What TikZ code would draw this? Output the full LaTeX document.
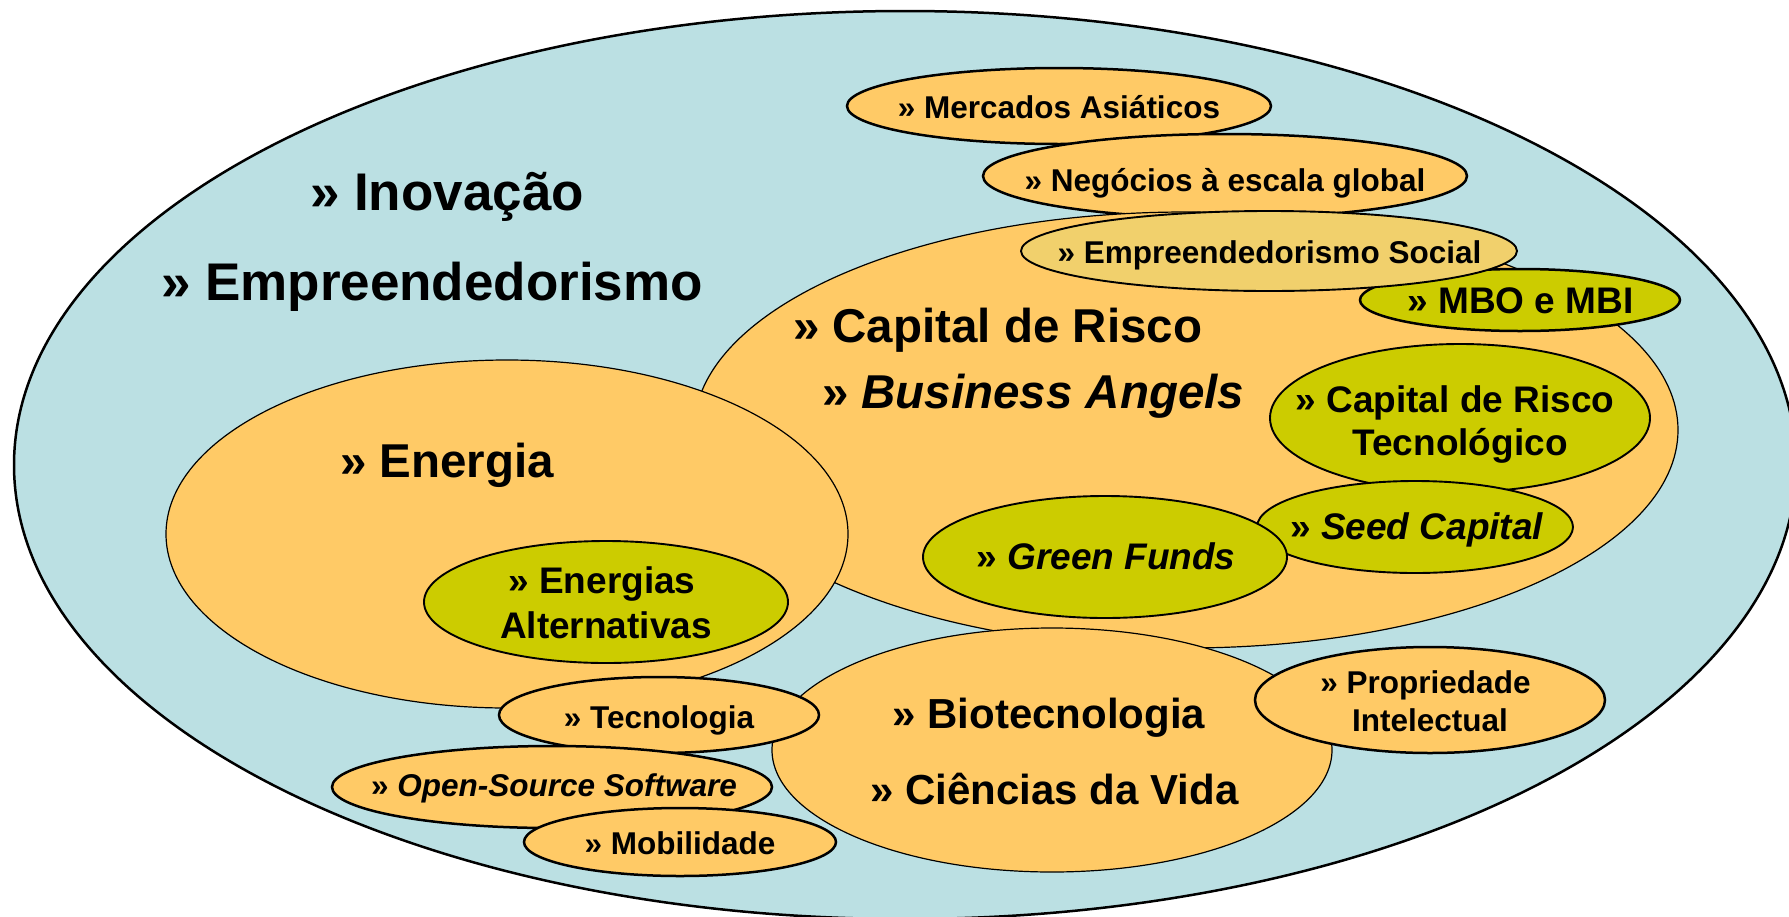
\documentclass[tikz,border=0pt]{standalone}
\usepackage{fontspec}
\setmainfont{Liberation Sans}
\usetikzlibrary{shapes.geometric}
\definecolor{teal}{HTML}{BBE0E3}
\definecolor{orng}{HTML}{FFCA66}
\definecolor{lorng}{HTML}{F1D06C}
\definecolor{grn}{HTML}{CCCC00}
\newcommand{\fsz}[1]{\fontsize{#1}{#1}\selectfont\bfseries}
\tikzset{
  blob/.style={ellipse, draw=black, inner sep=0pt, outer sep=0pt},
  ob/.style={blob, fill=orng},
  gb/.style={blob, fill=grn},
  thickb/.style={line width=2.5pt},
  thinb/.style={line width=1.2pt},
  medb/.style={line width=1.9pt},
  lbl/.style={anchor=base, inner sep=0pt, outer sep=0pt},
  lblw/.style={anchor=base west, inner sep=0pt, outer sep=0pt},
  big/.style={font=\fsz{53}},
  large/.style={font=\fsz{47.5}},
  mid/.style={font=\fsz{42}},
  med/.style={font=\fsz{37}},
  small/.style={font=\fsz{31.5}}
}
\begin{document}
\begin{tikzpicture}[x=1pt,y=-1pt]
\useasboundingbox (0,0) rectangle (1789,916);
\clip (0,0) rectangle (1789,916);
% outer
\node[blob, fill=teal, line width=2.5pt, minimum width=1782pt, minimum height=908pt] (outer) at (905,465) {};
% ellipses in stacking order
\node[ob, thickb, minimum width=424pt, minimum height=76pt] (merc) at (1059,106) {};
\node[ob, thickb, minimum width=484pt, minimum height=84pt] (neg) at (1225,176) {};
\node[ob, thinb, minimum width=984pt, minimum height=436pt] (cdr) at (1186,430) {};
\node[ob, thinb, minimum width=682pt, minimum height=348pt] (ene) at (507,534) {};
\node[gb, medb, minimum width=364pt, minimum height=122pt] (enalt) at (606,602) {};
\node[gb, thickb, minimum width=320pt, minimum height=62pt] (mbo) at (1520,300) {};
\node[blob, fill=lorng, medb, minimum width=496pt, minimum height=80pt] (emps) at (1269,251) {};
\node[gb, medb, minimum width=380pt, minimum height=148pt] (crt) at (1460,418) {};
\node[gb, medb, minimum width=316pt, minimum height=92pt] (seed) at (1415,527) {};
\node[gb, medb, minimum width=364pt, minimum height=122pt] (gf) at (1105,557) {};
\node[ob, thinb, minimum width=560pt, minimum height=244pt] (bio) at (1052,750) {};
\node[ob, thickb, minimum width=350pt, minimum height=106pt] (pi) at (1430,700) {};
\node[ob, thickb, minimum width=320pt, minimum height=76pt] (tec) at (659,715) {};
\node[ob, thickb, minimum width=440pt, minimum height=82pt] (oss) at (552,787) {};
\node[ob, thickb, minimum width=312pt, minimum height=68pt] (mob) at (680,842) {};
% texts
\node[lblw, big] (tinov) at (310,210) {» Inovação};
\node[lblw, big] (temp) at (161,300) {» Empreendedorismo};
\node[lbl, small] (tmerc) at (1059,118) {» Mercados Asiáticos};
\node[lbl, small] (tneg) at (1225,191) {» Negócios à escala global};
\node[lbl, small] (temps) at (1269.5,263) {» Empreendedorismo Social};
\node[lbl, med] (tmbo) at (1520.5,313) {» MBO e MBI};
\node[lblw, large] (tcdr) at (793,342) {» Capital de Risco};
\node[lblw, large] (tba) at (822,408) {» \textit{Business Angels}};
\node[lblw, large] (tene) at (340,477) {» Energia};
\node[lbl, med] (tenalt1) at (602,593) {» Energias};
\node[lbl, med] (tenalt2) at (606,638) {Alternativas};
\node[lbl, med] (tcrt1) at (1455,412) {» Capital de Risco};
\node[lbl, med] (tcrt2) at (1460,455) {Tecnológico};
\node[lbl, med] (tgf) at (1106,569) {» \textit{Green Funds}};
\node[lbl, med] (tseed) at (1417,539) {» \textit{Seed Capital}};
\node[lbl, small] (ttec) at (659,728) {» Tecnologia};
\node[lbl, small] (toss) at (554,796) {» \textit{Open-Source Software}};
\node[lbl, small] (tmob) at (680,854) {» Mobilidade};
\node[lbl, mid] (tbio1) at (1049,728) {» Biotecnologia};
\node[lbl, mid] (tbio2) at (1054.5,804) {» Ciências da Vida};
\node[lbl, small] (tpi1) at (1425.5,693) {» Propriedade};
\node[lbl, small] (tpi2) at (1430,731) {Intelectual};
\end{tikzpicture}
\end{document}
